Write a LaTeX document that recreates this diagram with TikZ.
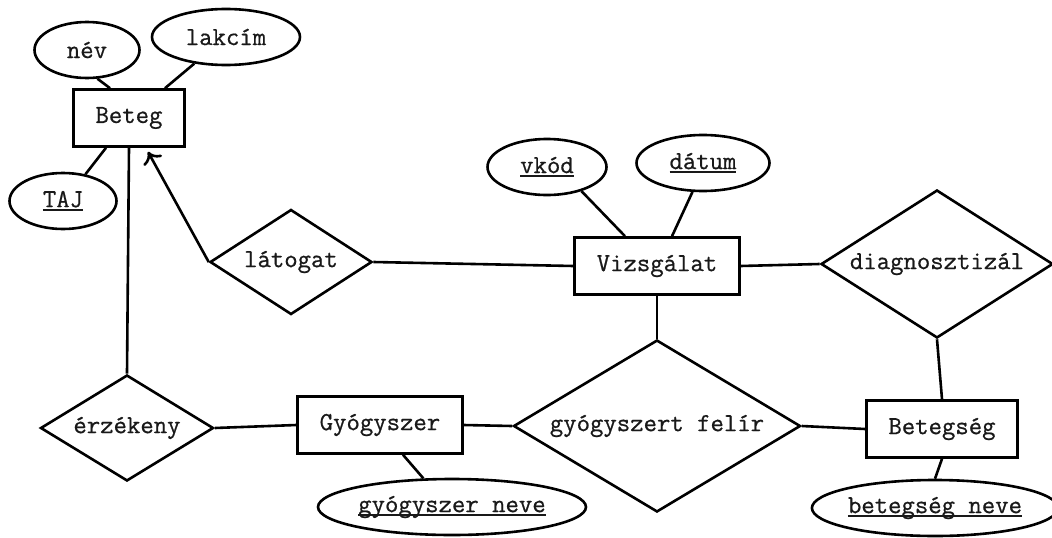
\documentclass[tikz,border=0pt]{standalone}
\usepackage{fontspec}
\setmonofont{Latin Modern Mono}[FakeBold=0.7]
\usetikzlibrary{shapes.geometric, arrows.meta}
\newcommand{\keyattr}[1]{\setbox0=\hbox{#1}\rlap{\rule[-4pt]{\wd0}{1.8pt}}\box0}
\tikzstyle{entity} = [rectangle, minimum height=57pt, inner xsep=22pt, text centered, draw=black]
\tikzstyle{attrib} = [ellipse, minimum height=56pt, inner sep=0pt, text centered, draw=black]
\tikzstyle{relation} = [diamond, inner sep=0pt, text centered, draw=black]
\tikzstyle{arrow} = [->,>={To[length=11pt,width=21pt]}]

\begin{document}
\begin{tikzpicture}[x=1pt, y=-1pt, line width=2.6pt, font=\ttfamily\fontsize{26}{30}\selectfont, text=black!90]
	\useasboundingbox (0,0) rectangle (1052,538);
	% entities
	\node (beteg) [entity] at (129,118) {Beteg};
	\node (vizsgalat) [entity] at (657,266) {Vizsgálat};
	\node (gyogyszer) [entity] at (380,425) {Gyógyszer};
	\node (betegseg) [entity] at (942,429) {Betegség};
	% attributes
	\node (nev) [attrib, minimum width=105pt] at (87,50) {név};
	\node (lakcim) [attrib, minimum width=148pt] at (226,37) {lakcím};
	\node (taj) [attrib, minimum width=107pt] at (63,201) {\keyattr{TAJ}};
	\node (vkod) [attrib, minimum width=119pt] at (547,167) {\keyattr{vkód}};
	\node (datum) [attrib, minimum width=133pt] at (703,163) {\keyattr{dátum}};
	\node (gyogynev) [attrib, minimum width=268pt] at (452,507) {\keyattr{gyógyszer neve}};
	\node (betegnev) [attrib, minimum width=235pt] at (935,508) {\keyattr{betegség neve}};
	% relations
	\node (latogat) [relation, aspect=1.54, minimum width=162pt, minimum height=105pt] at (291,262) {látogat};
	\node (diagnoszt) [relation, aspect=1.57, minimum width=232pt, minimum height=148pt] at (937,264) {diagnosztizál};
	\node (erzekeny) [relation, aspect=1.63, minimum width=173pt, minimum height=106pt] at (127,428) {érzékeny};
	\node (felir) [relation, aspect=1.67, minimum width=287pt, minimum height=172pt] at (657,426) {gyógyszert felír};

	\draw (nev.290) -- ([xshift=-19pt]beteg.north);
	\draw (lakcim.220) -- ([xshift=36pt]beteg.north);
	\draw (taj.50) -- ([xshift=-23pt]beteg.south);
	\draw (beteg.south) -- (erzekeny.north);
	\draw [arrow] (latogat.west) -- ([xshift=19pt,yshift=-4pt]beteg.south);
	\draw (latogat.east) -- (vizsgalat.west);
	\draw (vkod.325) -- ([xshift=-32pt]vizsgalat.north);
	\draw (datum.250) -- ([xshift=15pt]vizsgalat.north);
	\draw (vizsgalat.east) -- (diagnoszt.west);
	\draw (diagnoszt.south) -- (betegseg.north);
	\draw (vizsgalat.south) -- (felir.north);
	\draw (erzekeny.east) -- (gyogyszer.west);
	\draw (gyogyszer.east) -- (felir.west);
	\draw (felir.east) -- (betegseg.west);
	\draw ([xshift=23pt]gyogyszer.south) -- (gyogynev.135);
	\draw (betegseg.south) -- (betegnev.north);
\end{tikzpicture}
\end{document}
